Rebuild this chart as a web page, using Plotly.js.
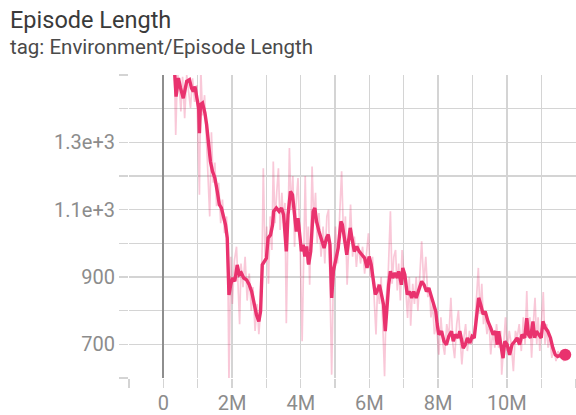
<!DOCTYPE html>
<html>
<head>
<meta charset="utf-8">
<script src="https://cdn.plot.ly/plotly-3.0.1.min.js"></script>
<style>
  html, body { margin: 0; padding: 0; background: #ffffff; }
  #chart { width: 576px; height: 415px; }
</style>
</head>
<body>
<div id="chart"></div>
<script>
// Training steps in millions, smoothed episode length
const smoothSteps = [
  0.27, 0.33, 0.37, 0.44, 0.50, 0.58, 0.68, 0.76, 0.82, 0.87, 0.92, 0.99, 1.03, 1.05, 1.08, 1.14,
  1.21, 1.26, 1.34, 1.37, 1.43, 1.50, 1.57, 1.63, 1.69, 1.74, 1.81, 1.86, 1.89, 1.91, 1.96, 2.01,
  2.08, 2.15, 2.21, 2.27, 2.34, 2.42, 2.50, 2.57, 2.63, 2.71, 2.78, 2.83, 2.88, 2.95, 3.00, 3.05,
  3.12, 3.18, 3.21, 3.29, 3.37, 3.44, 3.50, 3.58, 3.63, 3.70, 3.76, 3.82, 3.87, 3.92, 3.97, 4.02,
  4.07, 4.12, 4.17, 4.23, 4.29, 4.36, 4.41, 4.46, 4.53, 4.61, 4.68, 4.75, 4.80, 4.85, 4.90, 4.95,
  5.02, 5.09, 5.17, 5.21, 5.27, 5.34, 5.39, 5.44, 5.49, 5.56, 5.63, 5.70, 5.78, 5.86, 5.93, 5.99,
  6.05, 6.12, 6.17, 6.22, 6.29, 6.35, 6.41, 6.46, 6.51, 6.56, 6.61, 6.68, 6.74, 6.81, 6.85, 6.93,
  6.97, 7.03, 7.10, 7.17, 7.23, 7.29, 7.36, 7.44, 7.52, 7.59, 7.66, 7.73, 7.81, 7.88, 7.93, 7.97,
  8.02, 8.10, 8.17, 8.24, 8.31, 8.39, 8.44, 8.50, 8.58, 8.63, 8.68, 8.73, 8.79, 8.85, 8.92, 8.99,
  9.05, 9.11, 9.18, 9.24, 9.31, 9.37, 9.45, 9.53, 9.60, 9.67, 9.72, 9.76, 9.82, 9.89, 9.94, 10.01,
  10.08, 10.15, 10.23, 10.30, 10.37, 10.44, 10.52, 10.58, 10.63, 10.69, 10.76, 10.81, 10.86, 10.92, 11.00, 11.05,
  11.12, 11.19, 11.27, 11.34, 11.41, 11.48, 11.58, 11.70
];
const smoothValues = [
  1540, 1505, 1436, 1491, 1461, 1431, 1481, 1486, 1461, 1451, 1466, 1431, 1400, 1327, 1412, 1417,
  1387, 1352, 1283, 1243, 1214, 1194, 1154, 1115, 1105, 1085, 1055, 1016, 936, 847, 877, 897,
  887, 936, 907, 912, 897, 892, 877, 857, 828, 788, 768, 798, 936, 946, 956, 1016,
  1025, 1055, 1095, 1105, 1095, 1105, 1085, 976, 1085, 1154, 1144, 1085, 1035, 1075, 1026, 976,
  996, 961, 991, 937, 976, 1095, 1105, 1065, 1036, 1006, 986, 1016, 1026, 996, 838, 917,
  956, 986, 1065, 1055, 1016, 966, 1006, 1046, 1016, 976, 991, 976, 966, 956, 927, 961,
  937, 887, 848, 857, 877, 848, 818, 739, 818, 877, 917, 897, 912, 897, 917, 877,
  927, 907, 848, 857, 838, 857, 838, 867, 887, 877, 857, 867, 838, 818, 798, 760,
  729, 739, 709, 699, 724, 739, 709, 729, 719, 739, 709, 689, 699, 719, 704, 724,
  719, 778, 838, 818, 789, 798, 768, 749, 729, 739, 699, 739, 699, 659, 709, 699,
  669, 699, 709, 719, 699, 729, 719, 778, 729, 719, 768, 719, 739, 729, 719, 768,
  749, 739, 719, 689, 669, 664, 669, 669
];

// Raw (unsmoothed) episode length
const rawSteps = [
  0.27, 0.33, 0.36, 0.41, 0.46, 0.51, 0.56, 0.62, 0.68, 0.74, 0.79, 0.85, 0.91, 0.97, 1.02, 1.05,
  1.09, 1.14, 1.20, 1.26, 1.32, 1.35, 1.40, 1.45, 1.50, 1.55, 1.61, 1.67, 1.72, 1.78, 1.84, 1.88,
  1.91, 1.96, 2.01, 2.07, 2.13, 2.18, 2.22, 2.26, 2.32, 2.38, 2.44, 2.50, 2.56, 2.61, 2.67, 2.73,
  2.78, 2.83, 2.88, 2.91, 2.96, 3.01, 3.06, 3.11, 3.16, 3.20, 3.25, 3.30, 3.35, 3.40, 3.45, 3.50,
  3.54, 3.58, 3.63, 3.67, 3.72, 3.77, 3.82, 3.86, 3.92, 3.98, 4.04, 4.09, 4.13, 4.18, 4.22, 4.26,
  4.33, 4.38, 4.43, 4.48, 4.53, 4.59, 4.65, 4.70, 4.76, 4.81, 4.86, 4.90, 4.95, 5.01, 5.07, 5.13,
  5.19, 5.25, 5.30, 5.35, 5.40, 5.45, 5.51, 5.56, 5.62, 5.68, 5.74, 5.80, 5.86, 5.92, 5.97, 6.03,
  6.09, 6.14, 6.19, 6.24, 6.29, 6.34, 6.39, 6.44, 6.49, 6.55, 6.61, 6.66, 6.71, 6.76, 6.81, 6.85,
  6.90, 6.95, 7.01, 7.06, 7.11, 7.16, 7.20, 7.26, 7.31, 7.36, 7.41, 7.46, 7.52, 7.58, 7.64, 7.70,
  7.75, 7.79, 7.84, 7.89, 7.95, 8.02, 8.08, 8.14, 8.19, 8.25, 8.31, 8.37, 8.43, 8.48, 8.54, 8.59,
  8.64, 8.69, 8.75, 8.80, 8.85, 8.91, 8.97, 9.03, 9.07, 9.12, 9.17, 9.22, 9.27, 9.32, 9.36, 9.42,
  9.48, 9.53, 9.59, 9.65, 9.70, 9.76, 9.82, 9.85, 9.90, 9.96, 10.01, 10.07, 10.13, 10.19, 10.25, 10.30,
  10.36, 10.42, 10.48, 10.53, 10.58, 10.62, 10.67, 10.72, 10.77, 10.82, 10.87, 10.91, 10.96, 11.01, 11.06, 11.11,
  11.16, 11.20, 11.25, 11.31, 11.37, 11.43, 11.49, 11.55, 11.60, 11.66, 11.70
];
const rawValues = [
  1560, 1480, 1322, 1510, 1470, 1392, 1495, 1372, 1500, 1450, 1402, 1490, 1420, 1470, 1260, 1144,
  1520, 1380, 1440, 1300, 1180, 1080, 1330, 1180, 1240, 1110, 1180, 1060, 1130, 1030, 1080, 900,
  590, 960, 820, 950, 990, 860, 760, 940, 870, 960, 830, 910, 800, 870, 740, 820,
  730, 800, 1000, 1223, 960, 1050, 880, 1080, 980, 1243, 1060, 1150, 1223, 1040, 1150, 1060,
  1120, 763, 1000, 1283, 1100, 1200, 990, 1110, 1194, 1000, 709, 1060, 1200, 940, 1050, 877,
  1228, 1060, 1150, 1000, 1090, 960, 1050, 940, 1080, 1100, 880, 610, 900, 1050, 940, 1080,
  1214, 1000, 1080, 877, 1000, 1115, 960, 1020, 930, 1000, 940, 990, 910, 980, 1030, 900,
  960, 830, 729, 880, 820, 900, 770, 605, 840, 920, 1095, 880, 960, 980, 860, 940,
  830, 980, 900, 860, 778, 900, 755, 880, 820, 900, 800, 880, 1006, 880, 960, 840,
  870, 780, 820, 730, 760, 669, 780, 700, 669, 760, 720, 838, 700, 659, 760, 800,
  700, 640, 720, 760, 680, 740, 700, 720, 760, 840, 927, 790, 880, 760, 800, 730,
  770, 670, 740, 690, 760, 690, 740, 610, 700, 780, 680, 740, 700, 620, 740, 720,
  760, 680, 780, 700, 858, 720, 780, 660, 760, 838, 700, 780, 680, 760, 855, 700,
  760, 690, 720, 660, 690, 650, 680, 660, 670, 650, 670
];

// Axis ticks
const xTickVals = [0, 2, 4, 6, 8, 10];
const xTickText = ['0', '2M', '4M', '6M', '8M', '10M'];
const xMinorVals = [-1, 1, 3, 5, 7, 9, 11, 12];
const yTickVals = [700, 900, 1100, 1300];
const yTickText = ['700', '900', '1.1e+3', '1.3e+3'];
const yMinorVals = [600, 800, 1000, 1200, 1400, 1500];

const runColor = 'rgb(233,50,110)';
const runColorFaint = 'rgba(233,50,110,0.27)';
const gridColor = '#d4d4d4';
const labelFont = { family: 'Roboto, sans-serif', size: 20, color: '#8c8c8c' };

const lastIdx = smoothSteps.length - 1;

const traces = [
  {
    type: 'scatter', mode: 'lines',
    x: rawSteps, y: rawValues,
    line: { color: runColorFaint, width: 1.7 },
    hoverinfo: 'skip', showlegend: false
  },
  {
    type: 'scatter', mode: 'lines',
    x: smoothSteps, y: smoothValues,
    line: { color: runColor, width: 3.4 },
    showlegend: false
  },
  {
    type: 'scatter', mode: 'markers',
    x: [smoothSteps[lastIdx]], y: [smoothValues[lastIdx]],
    marker: { color: runColor, size: 12 },
    cliponaxis: false, showlegend: false
  }
];

const layout = {
  width: 576, height: 415,
  margin: { l: 129, r: 0, t: 75, b: 37, pad: 0 },
  paper_bgcolor: '#ffffff', plot_bgcolor: '#ffffff',
  showlegend: false,
  title: {
    text: 'Episode Length',
    font: { family: 'Roboto, sans-serif', size: 23.5, color: '#3a3a3a' },
    xref: 'container', yref: 'container',
    x: 10 / 576, xanchor: 'left',
    y: 1 - 12 / 415, yanchor: 'top'
  },
  annotations: [{
    text: 'tag: Environment/Episode Length',
    xref: 'paper', yref: 'paper',
    x: (8 - 129) / 447, xanchor: 'left',
    y: 1 + (75 - 47) / 303, yanchor: 'middle',
    showarrow: false,
    font: { family: 'Roboto, sans-serif', size: 20.5, color: '#4a4a4a' }
  }],
  xaxis: {
    range: [-1, 12.013],
    tickmode: 'array', tickvals: xTickVals, ticktext: xTickText,
    tickfont: labelFont, ticklabelstandoff: -2,
    ticks: 'outside', ticklen: 9, tickwidth: 1.4, tickcolor: gridColor,
    showgrid: true, gridcolor: gridColor, gridwidth: 1.4,
    minor: {
      tickmode: 'array', tickvals: xMinorVals,
      ticks: 'outside', ticklen: 9, tickwidth: 1.4, tickcolor: gridColor,
      showgrid: true, gridcolor: gridColor, gridwidth: 1.4
    },
    zeroline: true, zerolinecolor: '#8e8e8e', zerolinewidth: 1.8,
    showline: false, fixedrange: true
  },
  yaxis: {
    range: [600, 1500],
    tickmode: 'array', tickvals: yTickVals, ticktext: yTickText,
    tickfont: labelFont,
    ticks: 'outside', ticklen: 9, tickwidth: 1.4, tickcolor: gridColor,
    showgrid: true, gridcolor: gridColor, gridwidth: 1.4,
    minor: {
      tickmode: 'array', tickvals: yMinorVals,
      ticks: 'outside', ticklen: 9, tickwidth: 1.4, tickcolor: gridColor,
      showgrid: true, gridcolor: gridColor, gridwidth: 1.4
    },
    zeroline: false, showline: false, fixedrange: true
  }
};

Plotly.newPlot('chart', traces, layout, { displayModeBar: false, staticPlot: true });
</script>
</body>
</html>
